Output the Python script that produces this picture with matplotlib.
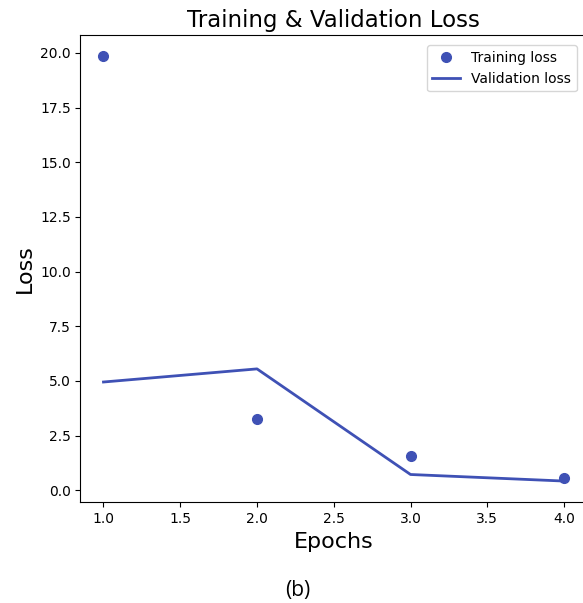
import matplotlib
matplotlib.use('Agg')
import matplotlib.pyplot as plt

epochs = [1, 2, 3, 4]
train_loss = [19.85, 3.25, 1.55, 0.55]
val_loss = [4.95, 5.55, 0.72, 0.42]

color = '#3f51b5'

fig = plt.figure(figsize=(5.83, 6.03), dpi=100)
ax = fig.add_axes([0.138, 0.167, 0.869, 0.775])

ax.plot(epochs, train_loss, 'o', color=color, markersize=7, label='Training loss')
ax.plot(epochs, val_loss, '-', color=color, linewidth=2, label='Validation loss')

ax.set_title('Training & Validation Loss', fontsize=16.5)
ax.set_xlabel('Epochs', fontsize=16)
ax.set_ylabel('Loss', fontsize=16)
ax.set_xticks([1.0, 1.5, 2.0, 2.5, 3.0, 3.5, 4.0])
ax.set_yticks([0, 2.5, 5, 7.5, 10, 12.5, 15, 17.5, 20])
ax.tick_params(labelsize=10)
ax.legend(loc='upper right', fontsize=10, borderaxespad=0.75)

fig.text(0.51, 0.012, '(b)', ha='center', fontsize=15, family='Open Sans')

fig.savefig('out.png', dpi=100)
